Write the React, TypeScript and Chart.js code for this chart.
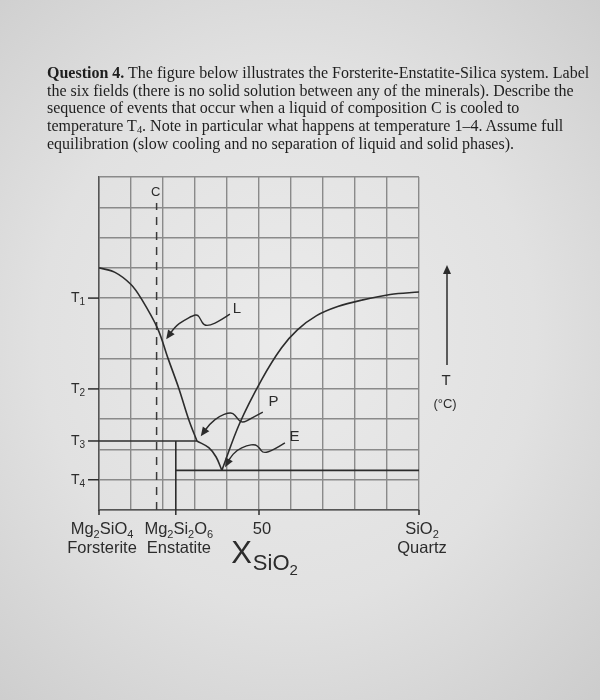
import React, { useEffect, useRef } from "react";
import { Chart, registerables } from "chart.js";

Chart.register(...registerables);

// ---- data (x: mol % SiO2, 0 = forsterite, 100 = quartz; y: temperature in grid units) ----
const forsteriteLiquidusX = [0, 5, 10, 13.1, 18.3, 21.6, 25, 28, 30.6];
const forsteriteLiquidusT = [8.0, 7.85, 7.45, 7.0, 6.0, 5.0, 4.0, 3.0, 2.28];
const enstatiteLiquidusX = [30.6, 34.3, 36.6, 38.4];
const enstatiteLiquidusT = [2.28, 2.06, 1.75, 1.31];
const silicaLiquidusX = [38.4, 43.9, 50.8, 57.0, 62.0, 68.0, 74.6, 82.0, 91.0, 100];
const silicaLiquidusT = [1.31, 2.85, 4.3, 5.35, 5.95, 6.42, 6.72, 6.93, 7.12, 7.2];
const peritecticX = 30.6;
const peritecticT = 2.28;
const eutecticT = 1.31;
const enstatiteX = 24;
const compositionC = 18;
const compositionCTop = 10.14;

const tempLabels = ["T1", "T2", "T3", "T4"];
const tempValues = [7, 4, 2.28, 1];

const compTickValues = [0, 24, 50, 100];
const compTopLabels = ["Mg2SiO4", "Mg2Si2O6", "50", "SiO2"];
const compNameLabels = ["Forsterite", "Enstatite", "", "Quartz"];

// wavy leader arrows (data coordinates), last point = arrow tip
const arrowLX = [40.9, 37.8, 34.7, 32.8, 31.7, 30.9, 29.5, 26.3, 23.8, 21.0];
const arrowLT = [6.47, 6.25, 6.1, 6.1, 6.3, 6.45, 6.43, 6.25, 6.06, 5.64];
const arrowPX = [51.2, 47.7, 44.6, 43.0, 41.9, 40.4, 37.8, 34.7, 31.8];
const arrowPT = [3.23, 3.03, 2.86, 3.06, 3.2, 3.21, 3.11, 2.86, 2.44];
const arrowEX = [58.1, 54.5, 51.3, 50.1, 48.8, 46.2, 43.0, 40.9, 39.4];
const arrowET = [2.22, 1.98, 1.87, 2.06, 2.17, 2.13, 1.98, 1.71, 1.41];
const pointLabels = ["L", "P", "E"];
const pointLabelX = [43.1, 54.5, 61.1];
const pointLabelT = [6.63, 3.56, 2.41];

const SANS = '"Liberation Sans", Arial, sans-serif';
const INK = "#2c2c2c";

function xy(xs: number[], ts: number[]) {
  return xs.map((x, i) => ({ x, y: ts[i] }));
}

function drawRich(
  ctx: CanvasRenderingContext2D,
  str: string,
  px: number,
  py: number,
  size: number,
  align: "left" | "center" | "right",
  subDigits = true
) {
  const segs: { t: string; sub: boolean; w: number }[] = [];
  for (const ch of str) {
    const sub = subDigits && /\d/.test(ch);
    const last = segs[segs.length - 1];
    if (last && last.sub === sub) last.t += ch;
    else segs.push({ t: ch, sub, w: 0 });
  }
  const mainFont = `${size}px ${SANS}`;
  const subFont = `${Math.round(size * 0.68)}px ${SANS}`;
  let w = 0;
  segs.forEach((s) => {
    ctx.font = s.sub ? subFont : mainFont;
    s.w = ctx.measureText(s.t).width;
    w += s.w;
  });
  let cx = align === "center" ? px - w / 2 : align === "right" ? px - w : px;
  const base = py + size * 0.36;
  ctx.textAlign = "left";
  ctx.textBaseline = "alphabetic";
  segs.forEach((s) => {
    ctx.font = s.sub ? subFont : mainFont;
    ctx.fillText(s.t, cx, s.sub ? base + size * 0.24 : base);
    cx += s.w;
  });
}

function drawArrowHead(ctx: CanvasRenderingContext2D, fx: number, fy: number, tx: number, ty: number, len = 9, half = 4) {
  const ang = Math.atan2(ty - fy, tx - fx);
  ctx.beginPath();
  ctx.moveTo(tx, ty);
  ctx.lineTo(tx - len * Math.cos(ang) + half * Math.sin(ang), ty - len * Math.sin(ang) - half * Math.cos(ang));
  ctx.lineTo(tx - len * Math.cos(ang) - half * Math.sin(ang), ty - len * Math.sin(ang) + half * Math.cos(ang));
  ctx.closePath();
  ctx.fill();
}

function drawWavy(ctx: CanvasRenderingContext2D, pts: { x: number; y: number }[]) {
  const n = pts.length;
  ctx.beginPath();
  ctx.moveTo(pts[0].x, pts[0].y);
  for (let i = 1; i < n - 2; i++) {
    const mx = (pts[i].x + pts[i + 1].x) / 2;
    const my = (pts[i].y + pts[i + 1].y) / 2;
    ctx.quadraticCurveTo(pts[i].x, pts[i].y, mx, my);
  }
  const a = pts[n - 2];
  const b = pts[n - 1];
  const ang = Math.atan2(b.y - a.y, b.x - a.x);
  const ex = b.x - 7 * Math.cos(ang);
  const ey = b.y - 7 * Math.sin(ang);
  ctx.quadraticCurveTo(a.x, a.y, ex, ey);
  ctx.stroke();
  drawArrowHead(ctx, a.x, a.y, b.x, b.y);
}

const annotations = {
  id: "annotations",
  afterDatasetsDraw(chart: any) {
    const { ctx, chartArea: a, scales } = chart;
    const xs = scales.x;
    const ys = scales.y;
    ctx.save();
    ctx.strokeStyle = INK;
    ctx.fillStyle = INK;
    ctx.lineWidth = 1.5;

    // temperature ticks + labels
    tempValues.forEach((v, i) => {
      const py = ys.getPixelForValue(v);
      ctx.beginPath();
      ctx.moveTo(a.left - 11, py);
      ctx.lineTo(a.left, py);
      ctx.stroke();
      drawRich(ctx, tempLabels[i], a.left - 14, py - 1, 14, "right");
    });

    // composition ticks + labels
    compTickValues.forEach((v, i) => {
      const px = xs.getPixelForValue(v);
      ctx.beginPath();
      ctx.moveTo(px, a.bottom);
      ctx.lineTo(px, a.bottom + 5);
      ctx.stroke();
      drawRich(ctx, compTopLabels[i], px + 3, a.bottom + 18, 16.5, "center", i !== 2);
      if (compNameLabels[i]) {
        ctx.font = `16.5px ${SANS}`;
        ctx.textAlign = "center";
        ctx.textBaseline = "middle";
        ctx.fillText(compNameLabels[i], px + 3, a.bottom + 38);
      }
    });

    // X_SiO2 axis title
    {
      const px = xs.getPixelForValue(41.3);
      ctx.textAlign = "left";
      ctx.textBaseline = "alphabetic";
      ctx.font = `31px ${SANS}`;
      ctx.fillText("X", px, a.bottom + 53);
      const wx = ctx.measureText("X").width;
      ctx.font = `22px ${SANS}`;
      ctx.fillText("SiO", px + wx + 1, a.bottom + 60);
      const ws = ctx.measureText("SiO").width;
      ctx.font = `15px ${SANS}`;
      ctx.fillText("2", px + wx + 1 + ws, a.bottom + 65);
    }

    // composition C label
    ctx.font = `13px ${SANS}`;
    ctx.textAlign = "center";
    ctx.textBaseline = "middle";
    ctx.fillText("C", xs.getPixelForValue(compositionC) - 1, ys.getPixelForValue(10.5));

    // wavy arrows + labels
    ctx.lineWidth = 1.4;
    const paths = [xy(arrowLX, arrowLT), xy(arrowPX, arrowPT), xy(arrowEX, arrowET)];
    paths.forEach((p) => {
      drawWavy(ctx, p.map((q) => ({ x: xs.getPixelForValue(q.x), y: ys.getPixelForValue(q.y) })));
    });
    ctx.font = `15px ${SANS}`;
    ctx.textAlign = "center";
    ctx.textBaseline = "middle";
    pointLabels.forEach((t, i) => {
      ctx.fillText(t, xs.getPixelForValue(pointLabelX[i]), ys.getPixelForValue(pointLabelT[i]));
    });

    // temperature direction arrow
    const ax = a.right + 28;
    ctx.lineWidth = 1.5;
    ctx.beginPath();
    ctx.moveTo(ax, a.top + 188);
    ctx.lineTo(ax, a.top + 94);
    ctx.stroke();
    drawArrowHead(ctx, ax, a.top + 188, ax, a.top + 88, 9, 4);
    ctx.font = `15px ${SANS}`;
    ctx.textAlign = "center";
    ctx.textBaseline = "middle";
    ctx.fillText("T", ax - 1, a.top + 204);
    ctx.font = `13px ${SANS}`;
    ctx.fillText("(°C)", ax - 2, a.top + 227);

    ctx.restore();
  },
};

export default function App() {
  const ref = useRef<HTMLCanvasElement>(null);

  useEffect(() => {
    const canvas = ref.current!;
    const base = {
      pointRadius: 0,
      borderColor: INK,
      borderWidth: 1.6,
      fill: false,
    };
    const chart = new Chart(canvas, {
      type: "line",
      data: {
        datasets: [
          { ...base, label: "Forsterite liquidus", data: xy(forsteriteLiquidusX, forsteriteLiquidusT), tension: 0.35 },
          { ...base, label: "Enstatite liquidus", data: xy(enstatiteLiquidusX, enstatiteLiquidusT), tension: 0.35 },
          { ...base, label: "Silica liquidus", data: xy(silicaLiquidusX, silicaLiquidusT), tension: 0.35 },
          { ...base, label: "Peritectic", data: [{ x: 0, y: peritecticT }, { x: peritecticX, y: peritecticT }] },
          { ...base, label: "Enstatite", data: [{ x: enstatiteX, y: peritecticT }, { x: enstatiteX, y: 0 }] },
          { ...base, label: "Eutectic", data: [{ x: enstatiteX, y: eutecticT }, { x: 100, y: eutecticT }] },
          { ...base, label: "C", borderWidth: 1.5, borderColor: "#3a3a3a", borderDash: [8, 7], data: [{ x: compositionC, y: 0 }, { x: compositionC, y: compositionCTop }] },
        ] as any,
      },
      options: {
        animation: false,
        responsive: false,
        events: [],
        layout: { padding: { left: 99, right: 181, top: 177, bottom: 190 } },
        plugins: {
          legend: { display: false },
          tooltip: { enabled: false },
          title: { display: false },
        },
        scales: {
          x: {
            type: "linear",
            min: 0,
            max: 100,
            ticks: { display: false, stepSize: 10 },
            grid: { color: "#8a8a8a", lineWidth: 1.4, drawTicks: false },
            border: { display: true, color: "#555555", width: 1.5 },
          },
          y: {
            type: "linear",
            min: 0,
            max: 11,
            ticks: { display: false, stepSize: 1 },
            grid: { color: "#8a8a8a", lineWidth: 1.4, drawTicks: false },
            border: { display: true, color: "#555555", width: 1.5 },
          },
        },
      },
      plugins: [annotations],
    });
    return () => chart.destroy();
  }, []);

  const lineStyle: React.CSSProperties = { whiteSpace: "nowrap", height: 17.7 };

  return (
    <div
      style={{
        position: "fixed",
        left: 0,
        top: 0,
        width: 600,
        height: 700,
        overflow: "hidden",
        background: "radial-gradient(ellipse 75% 70% at 48% 48%, #ebebeb 0%, #e1e1e1 55%, #cdcdcd 100%)",
      }}
    >
      <div
        style={{
          position: "absolute",
          left: 47,
          top: 64,
          fontFamily: '"Liberation Serif", "DejaVu Serif", serif',
          fontSize: 16,
          lineHeight: "17.7px",
          color: "#1e1e1e",
        }}
      >
        <div style={lineStyle}>
          <b>Question 4.</b> The figure below illustrates the Forsterite-Enstatite-Silica system. Label
        </div>
        <div style={lineStyle}>the six fields (there is no solid solution between any of the minerals). Describe the</div>
        <div style={lineStyle}>sequence of events that occur when a liquid of composition C is cooled to</div>
        <div style={lineStyle}>
          temperature T
          <span style={{ fontSize: "0.65em", position: "relative", top: "0.2em", lineHeight: 0 }}>4</span>. Note in
          particular what happens at temperature 1–4. Assume full
        </div>
        <div style={lineStyle}>equilibration (slow cooling and no separation of liquid and solid phases).</div>
      </div>
      <canvas
        ref={ref}
        width={600}
        height={700}
        style={{ position: "absolute", left: 0, top: 0, width: 600, height: 700 }}
      />
    </div>
  );
}
